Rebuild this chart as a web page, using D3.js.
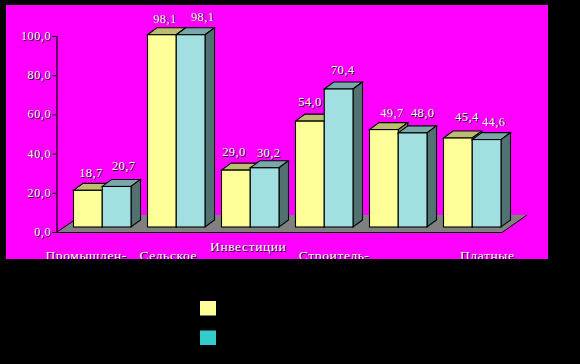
<!DOCTYPE html>
<html>
<head>
<meta charset="utf-8">
<script src="https://cdn.jsdelivr.net/npm/d3@7"></script>
<style>
  html, body { margin: 0; padding: 0; background: #000; }
  svg { display: block; }
  text { font-family: "Liberation Serif", serif; }
</style>
</head>
<body>
<svg width="580" height="364"></svg>
<script>
const categories = ["Промышлен-", "Сельское", "Инвестиции", "Строитель-", "", "Платные"];
const series1 = [18.7, 98.1, 29.0, 54.0, 49.7, 45.4];
const series2 = [20.7, 98.1, 30.2, 70.4, 48.0, 44.6];
const yTicks = [0, 20, 40, 60, 80, 100];
const seriesColors = ["#ffff99", "#a2dfe0"];
const seriesTops = ["#bdbd72", "#78a8a8"];
const seriesSides = ["#8a8a55", "#527272"];
const legendColors = ["#ffff99", "#33cccc"];

// Hand-placed labels in the original: offsets from the bar's centre and top
const labelDx = [[3, 3, -2, 0, 8, 9], [7, 12, 4, 4, 10, 7]];
const labelDy = [[-13, -12, -14, -15, -13, -17], [-16, -14, -11, -15, -16, -14]];
const catDx = [-16, -8, -2, 10, 0, 15];
const catY = [260, 260, 251, 260, 260, 260];

const svg = d3.select("svg");
const fmt = v => v.toFixed(1).replace(".", ",");

// Depth of the 3D effect
const dx = 9.5, dy = 7;

// Panel
svg.append("rect").attr("x", 6).attr("y", 5).attr("width", 542).attr("height", 254).attr("fill", "#ff00ff");

svg.append("clipPath").attr("id", "panel")
  .append("rect").attr("x", 6).attr("y", 5).attr("width", 542).attr("height", 254);

// Scales
const x = d3.scaleBand()
  .domain(d3.range(categories.length))
  .range([73.5, 501])
  .paddingInner(0.2228);

const xInner = d3.scaleBand()
  .domain([0, 1])
  .range([0, x.bandwidth()]);

const y = d3.scaleLinear().domain([0, 100]).range([232, 36]);
const baseShift = 5; // bars stand a little behind the front edge of the floor

// Floor
const floorLeft = 57, floorRight = 502, floorDx = 25, floorDy = 17;
svg.append("path")
  .attr("d", d3.line()([
    [floorLeft, y(0)], [floorRight, y(0)],
    [floorRight + floorDx, y(0) - floorDy], [floorLeft + floorDx, y(0) - floorDy]
  ]) + "Z")
  .attr("fill", "#808080")
  .attr("stroke", "none");
svg.append("path")
  .attr("d", d3.line()([
    [floorLeft, y(0)], [floorLeft + floorDx, y(0) - floorDy]
  ]))
  .attr("stroke", "#000").attr("fill", "none");
svg.append("path")
  .attr("d", d3.line()([
    [floorLeft, y(0) + 0.5], [floorRight, y(0) + 0.5], [floorRight + floorDx, y(0) - floorDy]
  ]))
  .attr("stroke", "#000").attr("stroke-width", 1).attr("fill", "none");

// Axis
const yAxis = d3.axisLeft(y).tickValues(yTicks).tickSize(4).tickFormat(fmt);
const axisG = svg.append("g")
  .attr("transform", "translate(56.5,0)")
  .call(yAxis);
axisG.select(".domain").attr("stroke", "#000").attr("stroke-width", 1.2);
axisG.selectAll(".tick line").attr("stroke", "#000");
axisG.selectAll(".tick text").remove();

// Embossed text: dark copy under a light one
function emboss(g, xPos, yPos, str, size, anchor, spacing) {
  g.append("text").attr("x", xPos + 0.7).attr("y", yPos + 0.7)
    .attr("font-size", size).attr("text-anchor", anchor).attr("letter-spacing", spacing)
    .attr("fill", "#000").text(str);
  g.append("text").attr("x", xPos).attr("y", yPos)
    .attr("font-size", size).attr("text-anchor", anchor).attr("letter-spacing", spacing)
    .attr("fill", "#fff").text(str);
}

const tickLabels = svg.append("g");
yTicks.forEach(t => {
  emboss(tickLabels, 51, y(t) + 4, fmt(t), 12, "end", 0.6);
});

// Bars
const bars = svg.append("g");
const allSeries = [series1, series2];

allSeries.forEach((values, s) => {
  values.forEach((v, i) => {
    const x0 = x(i) + xInner(s), x1 = x0 + xInner.bandwidth();
    const top = y(v) - baseShift, bottom = y(0) - baseShift;
    const g = bars.append("g")
      .attr("stroke", "#000").attr("stroke-width", 1.1).attr("stroke-linejoin", "miter");

    g.append("path")
      .attr("d", d3.line()([[x0, top], [x0 + dx, top - dy], [x1 + dx, top - dy], [x1, top]]) + "Z")
      .attr("fill", seriesTops[s]);
    g.append("path")
      .attr("d", d3.line()([[x1, top], [x1 + dx, top - dy], [x1 + dx, bottom - dy], [x1, bottom]]) + "Z")
      .attr("fill", seriesSides[s]);
    g.append("rect")
      .attr("x", x0).attr("y", top)
      .attr("width", x1 - x0).attr("height", bottom - top)
      .attr("fill", seriesColors[s]);
  });
});

// Value labels
const valueLabels = svg.append("g");
allSeries.forEach((values, s) => {
  values.forEach((v, i) => {
    const cx = x(i) + xInner(s) + xInner.bandwidth() / 2;
    emboss(valueLabels, cx + labelDx[s][i], y(v) - baseShift + labelDy[s][i], fmt(v), 12.5, "middle", 0.4);
  });
});

// Category labels, cut off by the panel edge
const catLabels = svg.append("g").attr("clip-path", "url(#panel)");
categories.forEach((c, i) => {
  emboss(catLabels, x(i) + x.bandwidth() / 2 + catDx[i], catY[i], c, 13.5, "middle", 0.6);
});

// Legend swatches
legendColors.forEach((c, i) => {
  svg.append("rect")
    .attr("x", 200).attr("y", 301 + i * 29.5)
    .attr("width", 16).attr("height", 14.5)
    .attr("fill", c);
});
</script>
</body>
</html>
